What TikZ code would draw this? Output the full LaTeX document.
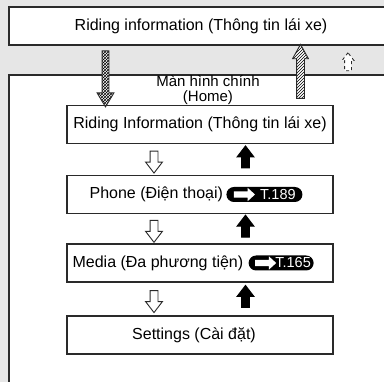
\documentclass[tikz,border=0pt]{standalone}
\usepackage{fontspec}
\setmainfont{Liberation Sans}
\usepackage{xcolor}
\usepackage{tikz}
\usetikzlibrary{
	arrows.meta,
	positioning,
	calc,
	shapes.arrows,
	shapes.misc,
	patterns
}

\definecolor{bggray}{HTML}{E6E6E6}
\definecolor{linecol}{HTML}{2A2A2A}

\tikzset{
	menubox/.style={draw=linecol, fill=white, line width=1.2pt, minimum width=266pt, minimum height=38pt, inner sep=0pt},
	blockarrow/.style={single arrow, draw=linecol, line width=0.9pt, inner sep=4pt, single arrow head extend=4pt, single arrow tip angle=75},
	downarrow/.style={blockarrow, fill=white, shape border rotate=270, minimum height=22pt, inner sep=3.5pt, single arrow head extend=4.5pt},
	uparrow/.style={blockarrow, fill=black, draw=black, shape border rotate=90, minimum height=22pt, inner sep=3.5pt, single arrow head extend=4.5pt},
	badge/.style={rounded rectangle, fill=black, text=white, inner xsep=3pt, inner ysep=0pt, minimum height=15pt, font=\fontsize{14.5}{14.5}\selectfont},
	badgearrow/.style={single arrow, fill=white, draw=none, shape border rotate=0, inner sep=3pt, minimum height=21pt, single arrow head extend=3.5pt, single arrow tip angle=85}
}

\begin{document}
\begin{tikzpicture}[x=1pt, y=-1pt, font=\fontsize{16}{18}\selectfont]
		
		\useasboundingbox (0,0) rectangle (384,382);
		\fill[bggray] (0,0) rectangle (384,382);
		
		\node[menubox, minimum width=384pt] (riding) at (201,26) {Riding information (Thông tin lái xe)};
		
		\fill[white] (9,75) rectangle (400,400);
		\draw[linecol, line width=1.2pt] (9,400) |- (400,75);
		\node[align=center, inner sep=0pt, font=\fontsize{15}{15.5}\selectfont] (home) at (208,90) {Màn hình chính\\(Home)};
		
		\node[menubox] (ride) at (200,124.5) {Riding Information (Thông tin lái xe)};
		\node[menubox] (phone) at (200,194.5) {};
		\node[menubox] (media) at (200,263) {};
		\node[menubox] (settings) at (200,335) {};
		
		\node[anchor=west, inner sep=0pt] (phonetxt) at ($(phone.west)+(23,0)$) {Phone (Điện thoại)};
		\node[badge, minimum width=82pt, right=3pt of phonetxt] (phonebadge) {\hspace{27pt}T.189};
		\node[badgearrow] at ($(phonebadge.west)+(16.5,0)$) {};
		
		\node[anchor=west, inner sep=0pt] (mediatxt) at ($(media.west)+(6,0)$) {Media (Đa phương tiện)};
		\node[badge, minimum width=71pt, right=5pt of mediatxt] (mediabadge) {\hspace{24pt}T.165};
		\node[badgearrow] at ($(mediabadge.west)+(15.5,0)$) {};
		
		\node at ($(settings)+(-6,0)$) {Settings (Cài đặt)};
		
		\foreach \a/\b in {ride/phone, phone/media, media/settings}{
			\node[downarrow] at ($(\a.south)!.5!(\b.north)+(-46,0)$) {};
			\node[uparrow] at ($(\a.south)!.5!(\b.north)+(45.5,0)$) {};
		}
		
		\node[blockarrow, shape border rotate=270, minimum height=56pt, inner sep=3pt, single arrow head extend=5pt, single arrow tip angle=62, preaction={fill=white}, pattern=crosshatch] (toride) at (105.5,76) {};
		\node[blockarrow, shape border rotate=90, minimum height=54pt, inner sep=3.5pt, single arrow head extend=4pt, single arrow tip angle=58, preaction={fill=white}, pattern=north east lines] (toriding) at (300.5,75) {};
		\node[blockarrow, dashed, fill=white, shape border rotate=90, minimum height=18pt, inner sep=3pt, single arrow head extend=2.5pt, single arrow tip angle=75] (dashup) at (348,64) {};
		
	\end{tikzpicture}
\end{document}
